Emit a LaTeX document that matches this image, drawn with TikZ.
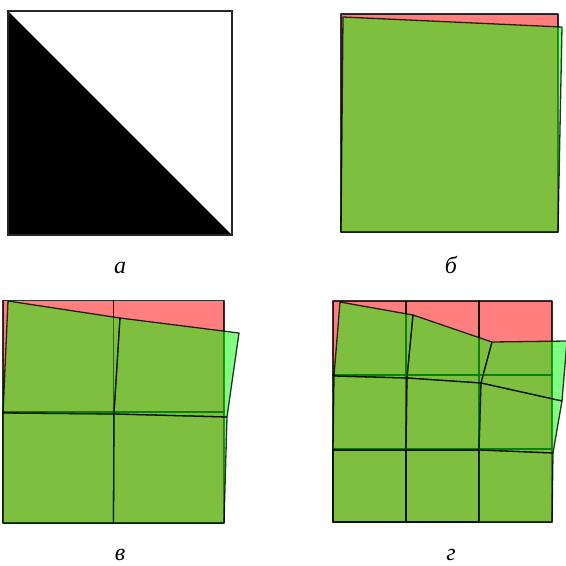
\documentclass[tikz,border=0pt]{standalone}
\usepackage{fontspec}
\setmainfont{Liberation Serif}
\begin{document}
\begin{tikzpicture}[x=1pt,y=-1pt,
  redcell/.style={fill={rgb,1:red,1;green,0;blue,0}, fill opacity=0.5, draw=black, draw opacity=0.8, line width=1.3pt, line join=round},
  greencell/.style={fill={rgb,1:red,0;green,1;blue,0}, fill opacity=0.5, draw=black, draw opacity=0.8, line width=1.3pt, line join=round},
  lbl/.style={font=\fontsize{24}{28}\selectfont\itshape, anchor=base, inner sep=0pt}]
\useasboundingbox (0,0) rectangle (566,566);
\clip (0,0) rectangle (566,566);

% ---------- panel a ----------
\fill[black] (8,11) -- (232,235) -- (8,235) -- cycle;
\draw[black!85, line width=1.3pt] (8,11) rectangle (232,235);
\node[lbl] (la) at (120,273) {а};

% ---------- panel b ----------
\path[redcell] (341,14) rectangle (558,232);
\path[greencell] (343,17) -- (562,27) -- (558,232) -- (341,232) -- cycle;
\node[lbl] (lb) at (451,273) {б};

% ---------- panel v : 2x2 ----------
\foreach \x [count=\i from 0] in {3,113.5,224}{
  \foreach \y [count=\j from 0] in {300.5,412,523}{
    \coordinate (rv-\i-\j) at (\x,\y);
  }
}
\coordinate (gv-0-0) at (8,301);
\coordinate (gv-1-0) at (120,318);
\coordinate (gv-2-0) at (239,333);
\coordinate (gv-0-1) at (3,413);
\coordinate (gv-1-1) at (114,414);
\coordinate (gv-2-1) at (227,417);
\coordinate (gv-0-2) at (3,523);
\coordinate (gv-1-2) at (113.5,523);
\coordinate (gv-2-2) at (224,523);
\foreach \i [evaluate=\i as \ii using int(\i+1)] in {0,1}{
  \foreach \j [evaluate=\j as \jj using int(\j+1)] in {0,1}{
    \path[redcell] (rv-\i-\j) -- (rv-\ii-\j) -- (rv-\ii-\jj) -- (rv-\i-\jj) -- cycle;
  }
}
\foreach \i [evaluate=\i as \ii using int(\i+1)] in {0,1}{
  \foreach \j [evaluate=\j as \jj using int(\j+1)] in {0,1}{
    \path[greencell] (gv-\i-\j) -- (gv-\ii-\j) -- (gv-\ii-\jj) -- (gv-\i-\jj) -- cycle;
  }
}
\node[lbl] (lv) at (120,560) {в};

% ---------- panel g : 3x3 ----------
\foreach \x [count=\i from 0] in {333,406,479,552}{
  \foreach \y [count=\j from 0] in {301,375,449,522}{
    \coordinate (rg-\i-\j) at (\x,\y);
  }
}
\coordinate (gg-0-0) at (340,302);
\coordinate (gg-1-0) at (413,315);
\coordinate (gg-2-0) at (492,342);
\coordinate (gg-3-0) at (567,341);
\coordinate (gg-0-1) at (334,376);
\coordinate (gg-1-1) at (407,378);
\coordinate (gg-2-1) at (481,383);
\coordinate (gg-3-1) at (562,401);
\coordinate (gg-0-2) at (333,450);
\coordinate (gg-1-2) at (406,450);
\coordinate (gg-2-2) at (479,450);
\coordinate (gg-3-2) at (553,453);
\coordinate (gg-0-3) at (333,522);
\coordinate (gg-1-3) at (406,522);
\coordinate (gg-2-3) at (479,522);
\coordinate (gg-3-3) at (552,522);
\foreach \i [evaluate=\i as \ii using int(\i+1)] in {0,1,2}{
  \foreach \j [evaluate=\j as \jj using int(\j+1)] in {0,1,2}{
    \path[redcell] (rg-\i-\j) -- (rg-\ii-\j) -- (rg-\ii-\jj) -- (rg-\i-\jj) -- cycle;
  }
}
\foreach \i [evaluate=\i as \ii using int(\i+1)] in {0,1,2}{
  \foreach \j [evaluate=\j as \jj using int(\j+1)] in {0,1,2}{
    \path[greencell] (gg-\i-\j) -- (gg-\ii-\j) -- (gg-\ii-\jj) -- (gg-\i-\jj) -- cycle;
  }
}
\node[lbl] (lg) at (451,560) {г};
\end{tikzpicture}
\end{document}
